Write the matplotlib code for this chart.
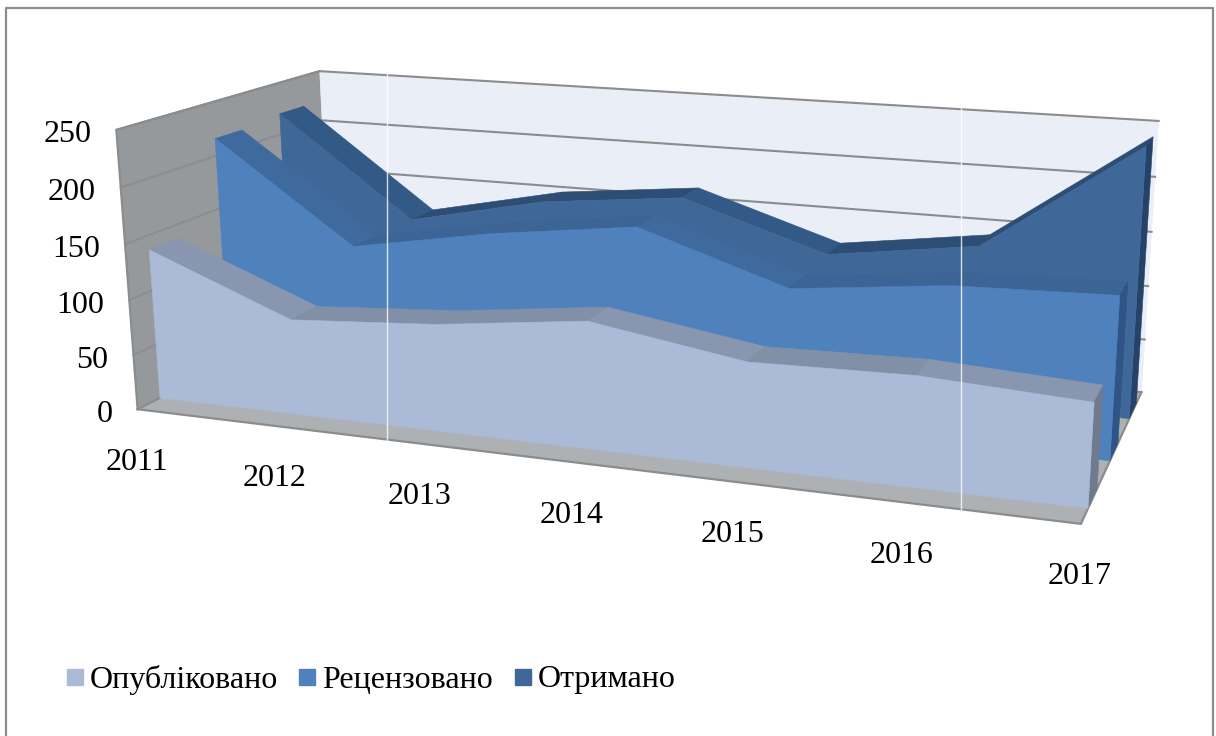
"""Recreate a 3-D area chart: article counts per year, drawn with a fitted camera."""

import numpy as np
import matplotlib
from matplotlib.colors import to_rgb

matplotlib.use("Agg")
import matplotlib.pyplot as plt

plt.rcParams["font.family"] = ["Liberation Serif", "DejaVu Serif"]

years = ["2011", "2012", "2013", "2014", "2015", "2016", "2017"]
y_ticks = [0, 50, 100, 150, 200, 250]
legend_names = ["Опубліковано", "Рецензовано", "Отримано"]

published = [137, 86, 95, 111, 90, 93, 86]
reviewed = [216, 125, 148, 165, 122, 137, 141]
received = [220, 125, 153, 167, 125, 144, 242]

Y_MAX = 250
W, H = 1216, 736

# box corners (category, depth, value; all 0..1) and where they land in pixels
BOX = np.array([[0, 0, 0], [0, 0, 1], [0, 1, 1], [0, 1, 0], [1, 0, 0], [1, 1, 0], [1, 1, 1]], float)
PIXELS = np.array([[136, 409], [118, 130], [318, 71], [333, 311], [1081, 524], [1141, 392], [1159, 121]], float)


def fit_camera():
    rows, rhs = [], []
    for (a, b, c), (u, v) in zip(BOX, PIXELS):
        rows.append([a, b, c, 1, 0, 0, 0, 0, -u * a, -u * b, -u * c])
        rows.append([0, 0, 0, 0, a, b, c, 1, -v * a, -v * b, -v * c])
        rhs += [u, v]
    p = np.linalg.lstsq(np.array(rows), np.array(rhs), rcond=None)[0]
    return np.append(p, 1).reshape(3, 4)


CAM = fit_camera()


def project(i, d, value):
    """Category index, depth 0..1, data value -> pixel x, y."""
    pt = CAM @ np.array([i / (len(years) - 1), d, value / Y_MAX, 1.0])
    return pt[0] / pt[2], pt[1] / pt[2]


def quad(ax, pts, color, z=1):
    xy = np.array([project(*p) for p in pts])
    ax.fill(xy[:, 0], xy[:, 1], facecolor=color, edgecolor=color, linewidth=0.4, zorder=z)


def draw_series(ax, values, front, back, face, top, side, dim, z):
    last = len(years) - 1
    for i in range(last):
        # rising stretches of the top strip catch a little less light
        shade = top if values[i + 1] < values[i] else tuple(dim * c for c in to_rgb(top))
        quad(ax, [(i, front, values[i]), (i + 1, front, values[i + 1]),
                  (i + 1, back, values[i + 1]), (i, back, values[i])], shade, z)
    quad(ax, [(last, front, 0), (last, back, 0), (last, back, values[last]), (last, front, values[last])], side, z)
    outline = [(i, front, values[i]) for i in range(last + 1)] + [(last, front, 0), (0, front, 0)]
    quad(ax, outline, face, z + 0.5)


fig = plt.figure(figsize=(W / 100, H / 100), dpi=100)
ax = fig.add_axes([0, 0, 1, 1])
ax.set_xlim(0, W)
ax.set_ylim(H, 0)
ax.axis("off")

# outer chart frame
ax.plot([6, 6, 1213, 1213], [736, 8, 8, 736], color="#8c8c8c", lw=1.6, zorder=0)

# walls and floor
n = len(years) - 1
quad(ax, [(0, 0, 0), (0, 1, 0), (0, 1, Y_MAX), (0, 0, Y_MAX)], "#96999c")
quad(ax, [(0, 1, 0), (n, 1, 0), (n, 1, Y_MAX), (0, 1, Y_MAX)], "#e9eef7")
quad(ax, [(0, 0, 0), (n, 0, 0), (n, 1, 0), (0, 1, 0)], "#aeb1b4")

for t in y_ticks:
    xs, ys = zip(project(0, 0, t), project(0, 1, t), project(n, 1, t))
    ax.plot(xs, ys, color="#8c8c8c", lw=1.5, zorder=1.5)
    x0, y0 = project(0, 0, t)
    ax.text(x0 - 25, y0 + 5, str(t), ha="right", va="center", fontsize=23, color="black")
xs, ys = zip(project(0, 0, 0), project(n, 0, 0), project(n, 1, 0))
ax.plot(xs, ys, color="#8c8c8c", lw=1.6, zorder=1.5)
xs, ys = zip(project(0, 0, 0), project(0, 0, Y_MAX), project(0, 1, Y_MAX))
ax.plot(xs, ys, color="#8c8c8c", lw=1.6, zorder=1.5)

draw_series(ax, received, 0.767, 0.9, "#3f6797", "#335a87", "#254268", 0.86, 2)
draw_series(ax, reviewed, 0.433, 0.567, "#4f81bd", "#3f6a9e", "#2f5486", 0.95, 3)
draw_series(ax, published, 0.1, 0.233, "#abbad7", "#8896b0", "#6f7a8e", 0.95, 4)

# white hairlines present in the source image
ax.plot([387, 387], [72, 441], color="white", lw=1, alpha=0.8, zorder=6)
ax.plot([961, 961], [85, 511], color="white", lw=1, alpha=0.8, zorder=6)

for i, label in enumerate(years):
    x0, y0 = project(i, 0, 0)
    ax.text(x0 - 1, y0 + 53, label, ha="center", va="center", fontsize=23, color="black")

legend_x = [67, 299, 515]
for name, color, x in zip(legend_names, ["#abbad7", "#4f81bd", "#3f6797"], legend_x):
    ax.fill([x, x + 16, x + 16, x], [669, 669, 685, 685], color=color, zorder=5)
    ax.text(x + 23, 680, name, ha="left", va="center", fontsize=23, color="black")

fig.savefig("out.png", dpi=100)
plt.close(fig)
